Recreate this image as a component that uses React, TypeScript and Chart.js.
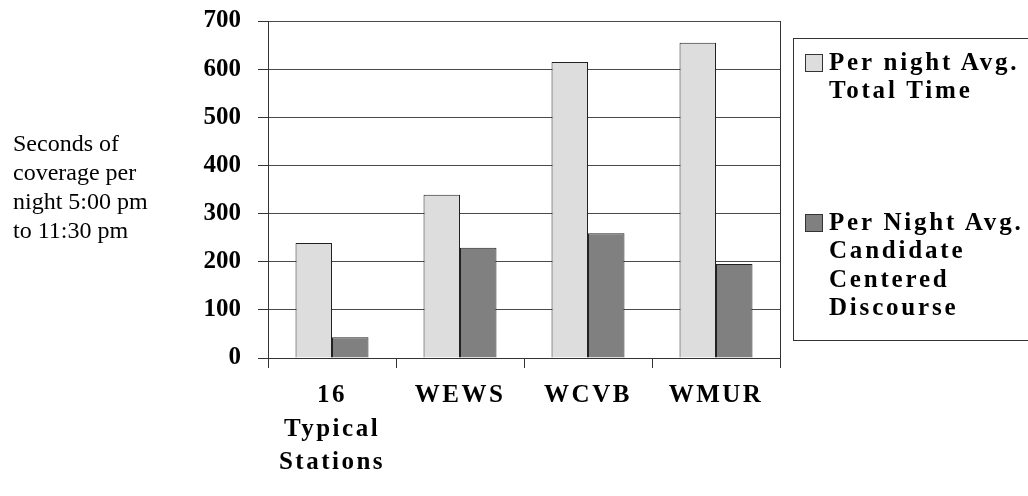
import React, { useEffect, useRef } from "react";
import { Chart, registerables } from "chart.js";

Chart.register(...registerables);

const categories: (string | string[])[] = [["16", "Typical", "Stations"], "WEWS", "WCVB", "WMUR"];
const totalTime = [239, 339, 615, 655];
const candidateCentered = [43, 229, 259, 195];
const seriesNames = ["Per night Avg.\nTotal Time", "Per Night Avg.\nCandidate\nCentered\nDiscourse"];
const seriesColors = ["#dddddd", "#808080"];
const yTitleLines = ["Seconds of", "coverage per", "night 5:00 pm", "to 11:30 pm"];
const yMax = 700;
const yStep = 100;

const FONT = "'Liberation Serif', 'Times New Roman', serif";

const framePlugin = {
  id: "frame",
  afterLayout(chart: any) {
    const s = chart.scales.x;
    if (s && !s.__patched) {
      const orig = s.drawLabels.bind(s);
      s.drawLabels = (area: any) => {
        const ctx = chart.ctx;
        ctx.save();
        (ctx as any).letterSpacing = "2.5px";
        orig(area);
        ctx.restore();
      };
      s.__patched = true;
    }
  },
  afterDraw(chart: any) {
    const { ctx, chartArea } = chart;
    ctx.save();
    ctx.strokeStyle = "#333";
    ctx.lineWidth = 1;
    ctx.beginPath();
    const x = Math.round(chartArea.right) + 0.5;
    ctx.moveTo(x, chartArea.top);
    ctx.lineTo(x, chartArea.bottom + 10);
    ctx.stroke();
    ctx.restore();
  },
};

export default function App() {
  const ref = useRef<HTMLCanvasElement>(null);
  useEffect(() => {
    if (!ref.current) return;
    const chart = new Chart(ref.current, {
      type: "bar",
      data: {
        labels: categories,
        datasets: [
          {
            label: seriesNames[0],
            data: totalTime,
            backgroundColor: seriesColors[0],
            borderColor: "#222",
            borderWidth: 1,
            barPercentage: 1,
            categoryPercentage: 0.57,
          },
          {
            label: seriesNames[1],
            data: candidateCentered,
            backgroundColor: seriesColors[1],
            borderColor: "#222",
            borderWidth: 1,
            barPercentage: 1,
            categoryPercentage: 0.57,
          },
        ],
      },
      options: {
        animation: false,
        responsive: false,
        maintainAspectRatio: false,
        layout: { padding: { left: 0, right: 248, top: 21, bottom: 0 } },
        plugins: { legend: { display: false }, tooltip: { enabled: false } },
        scales: {
          x: {
            afterFit: (s: any) => {
              s.height = 138;
              s.paddingLeft = 0;
              s.paddingRight = 0;
            },
            grid: {
              display: true,
              offset: true,
              drawOnChartArea: false,
              drawTicks: true,
              tickLength: 10,
              tickColor: "#333",
              color: "#333",
            },
            border: { display: true, color: "#333", width: 1 },
            ticks: {
              color: "#000",
              padding: 11,
              maxRotation: 0,
              autoSkip: false,
              font: { family: FONT, size: 25, weight: "bold", lineHeight: 1.34 },
            },
          },
          y: {
            min: 0,
            max: yMax,
            afterFit: (s: any) => {
              s.width = 268;
              s.paddingTop = 0;
              s.paddingBottom = 0;
            },
            grid: {
              color: "#4a4a4a",
              lineWidth: 1,
              drawTicks: true,
              tickLength: 10,
              tickColor: "#333",
            },
            border: { display: true, color: "#333", width: 1 },
            ticks: {
              stepSize: yStep,
              color: "#000",
              padding: 17,
              font: { family: FONT, size: 25, weight: "bold" },
            },
          },
        },
      },
      plugins: [framePlugin],
    } as any);
    return () => chart.destroy();
  }, []);

  const entryTops = [8.6, 168.6];

  return (
    <div style={{ position: "absolute", left: 0, top: 0, width: 1028, height: 496, overflow: "hidden", background: "#fff" }}>
      <canvas ref={ref} width={1028} height={496} style={{ position: "absolute", left: 0, top: 0 }} />
      <div
        style={{
          position: "absolute",
          left: 13,
          top: 129,
          fontFamily: FONT,
          fontSize: 24,
          lineHeight: "29px",
          color: "#000",
          whiteSpace: "nowrap",
        }}
      >
        {yTitleLines.map((l, i) => (
          <div key={i}>{l}</div>
        ))}
      </div>
      <div
        style={{
          position: "absolute",
          left: 793,
          top: 38,
          width: 300,
          height: 303,
          border: "1px solid #333",
          boxSizing: "border-box",
        }}
      >
        {seriesNames.map((name, i) => (
          <div key={i} style={{ position: "absolute", left: 11, top: entryTops[i] }}>
            <div
              style={{
                position: "absolute",
                left: 0,
                top: 6,
                width: 18,
                height: 18,
                boxSizing: "border-box",
                border: "1px solid #333",
                background: seriesColors[i],
              }}
            />
            <div
              style={{
                position: "absolute",
                left: 24,
                top: 0,
                fontFamily: FONT,
                fontSize: 25,
                fontWeight: "bold",
                letterSpacing: "2.8px",
                lineHeight: "28.5px",
                whiteSpace: "pre",
                color: "#000",
              }}
            >
              {name}
            </div>
          </div>
        ))}
      </div>
    </div>
  );
}
